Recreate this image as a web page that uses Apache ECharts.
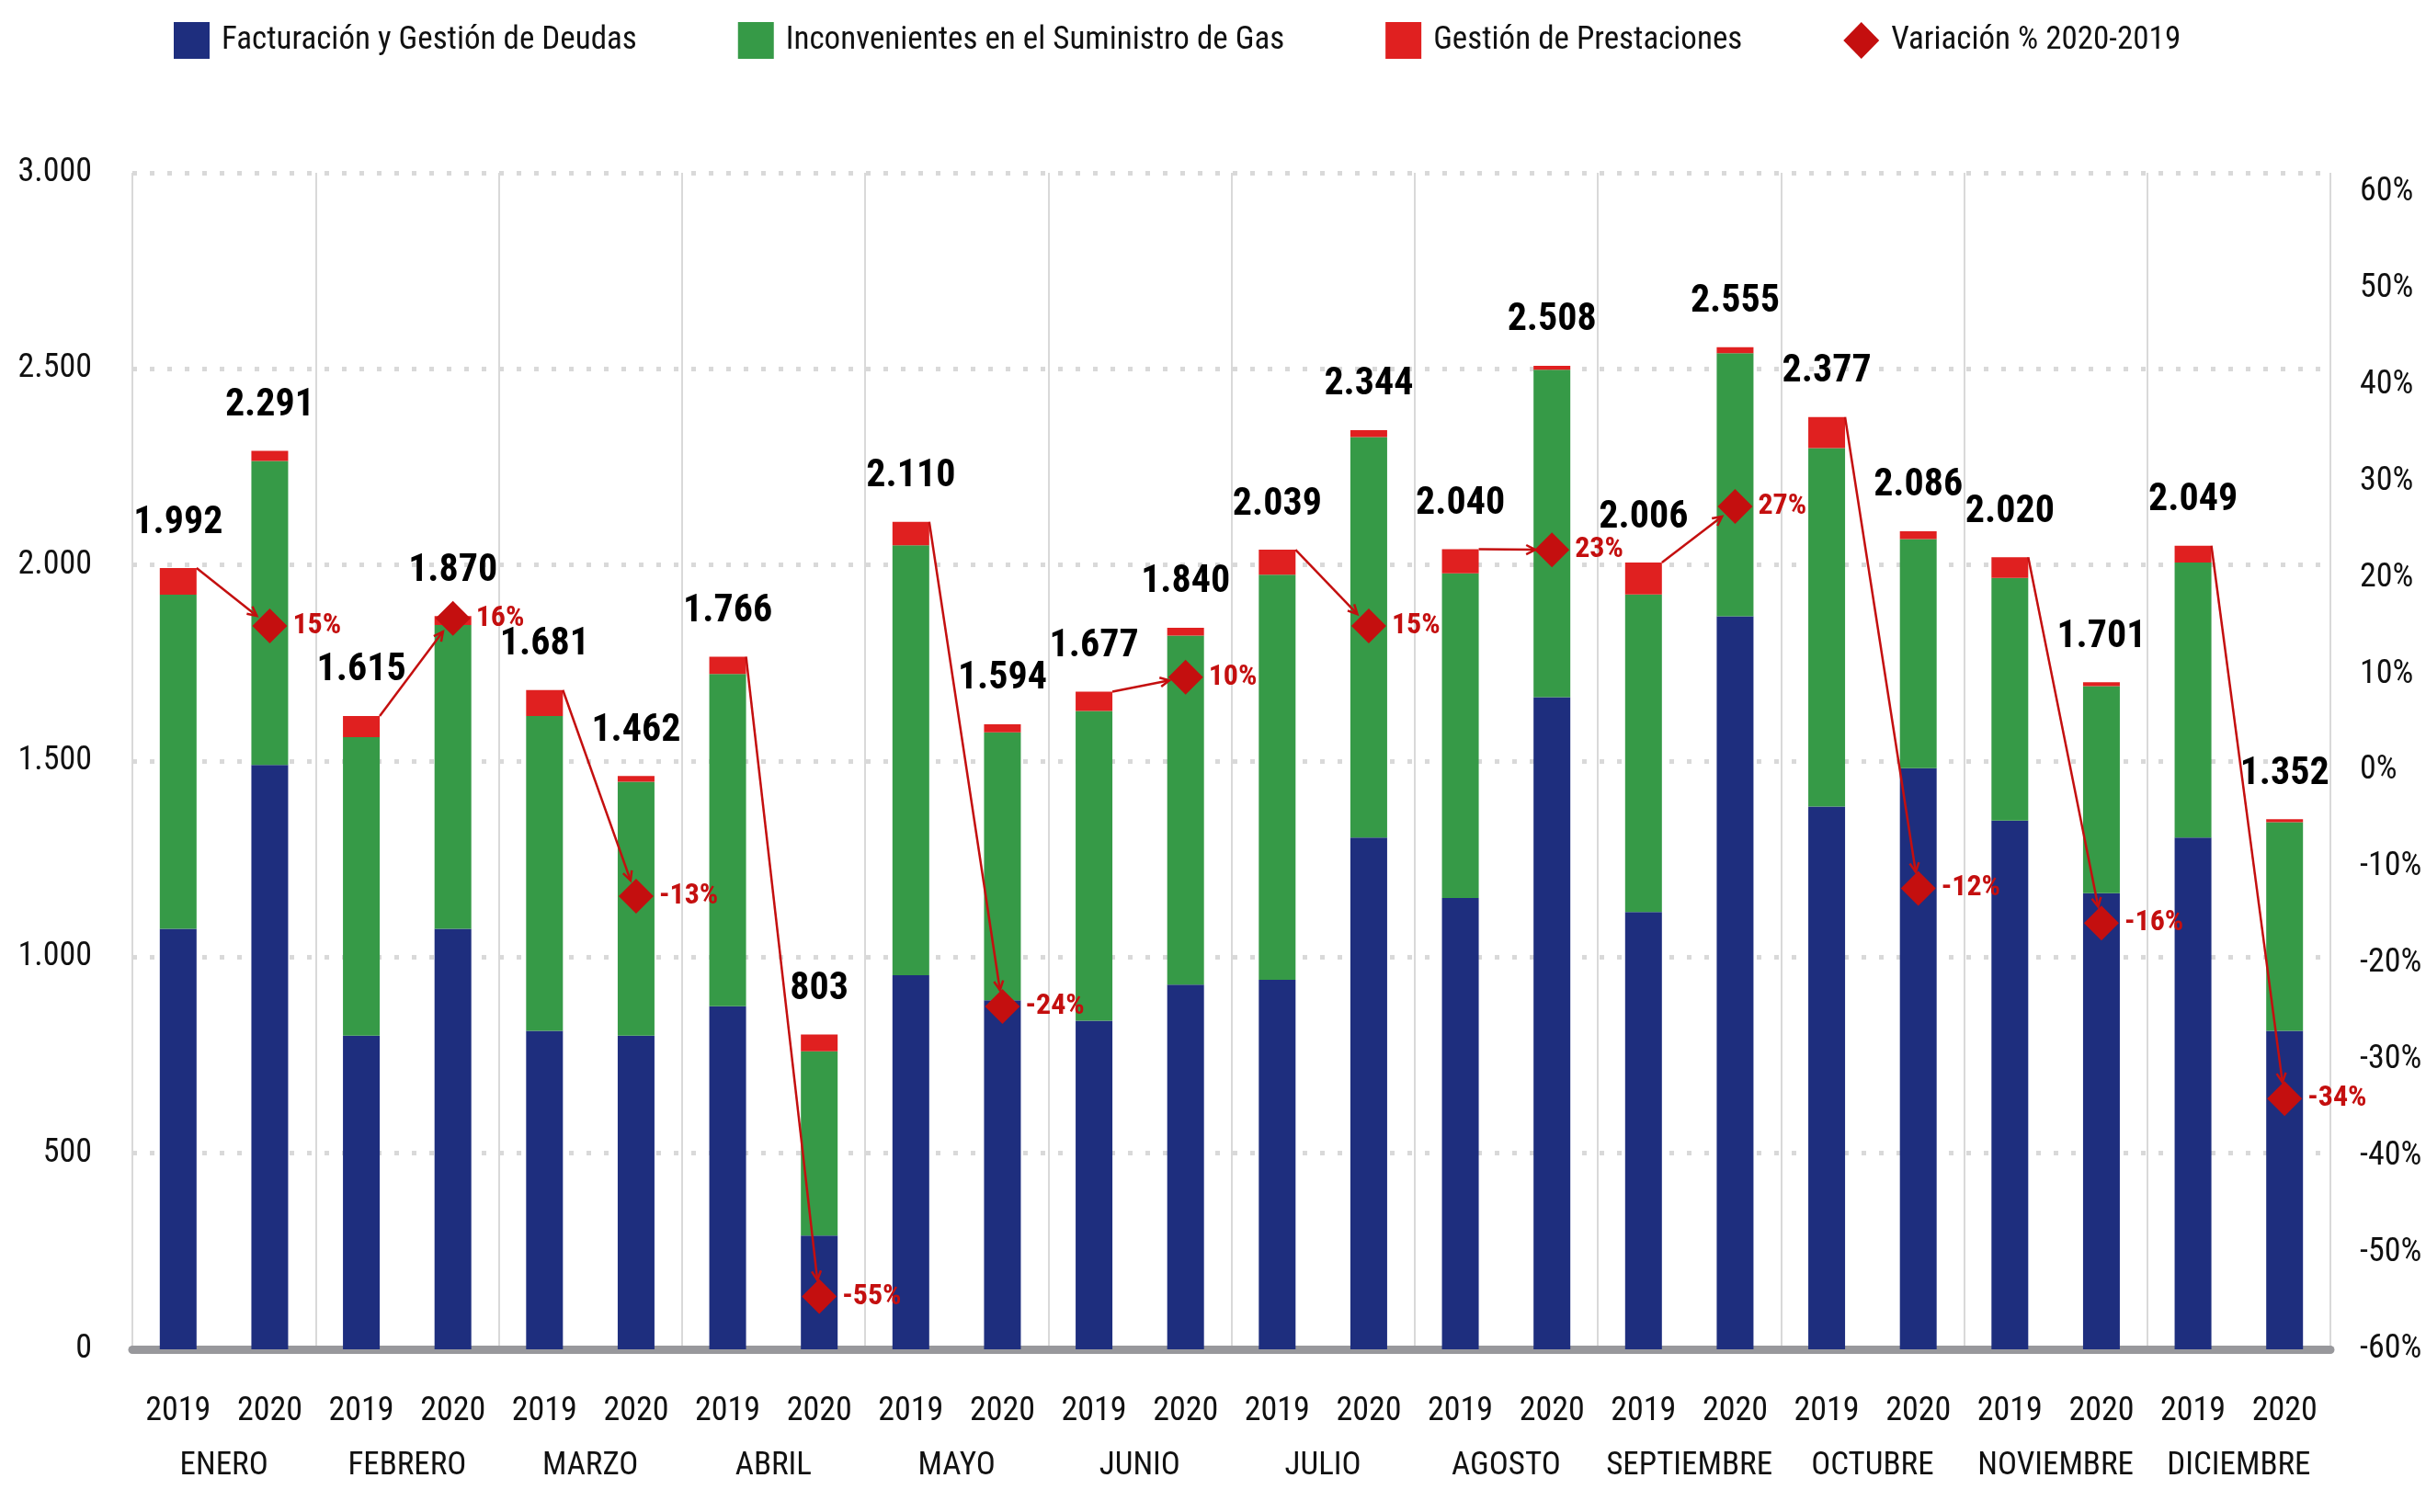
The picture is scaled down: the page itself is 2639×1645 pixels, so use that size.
<!DOCTYPE html>
<html>
<head>
<meta charset="utf-8">
<title>Reclamos por mes 2019-2020</title>
<script src="https://cdn.jsdelivr.net/npm/echarts@6/dist/echarts.min.js"></script>
<style>
  html, body { margin: 0; padding: 0; background: #fff; }
  #main { width: 2639px; height: 1645px; }
</style>
</head>
<body>
<div id="main"></div>
<script>
// datos
var months = ['ENERO', 'FEBRERO', 'MARZO', 'ABRIL', 'MAYO', 'JUNIO', 'JULIO', 'AGOSTO', 'SEPTIEMBRE', 'OCTUBRE', 'NOVIEMBRE', 'DICIEMBRE'];
var years = ['2019', '2020'];

// pares 2019, 2020 por mes
var facturacion = [1072, 1490, 800, 1072, 812, 800, 875, 290, 954, 890, 838, 930, 942, 1305, 1151, 1663, 1115, 1869, 1384, 1482, 1348, 1163, 1305, 812];
var suministro = [852, 775, 761, 775, 803, 647, 847, 470, 1096, 683, 790, 890, 1033, 1021, 828, 835, 810, 671, 914, 584, 619, 528, 701, 532];
var prestaciones = [68, 26, 54, 23, 66, 15, 44, 43, 60, 21, 49, 20, 64, 18, 61, 10, 81, 15, 79, 20, 53, 10, 43, 8];
var totales = [1992, 2291, 1615, 1870, 1681, 1462, 1766, 803, 2110, 1594, 1677, 1840, 2039, 2344, 2040, 2508, 2006, 2555, 2377, 2086, 2020, 1701, 2049, 1352];

// variacion % 2020 vs 2019, un valor por mes
var variacion = [15.0, 15.8, -13.0, -54.53, -24.45, 9.7, 15.0, 22.9, 27.4, -12.2, -15.8, -34.0];

var FONT = "'Roboto Condensed', 'Liberation Sans Narrow', 'Roboto', sans-serif";
var AZUL = '#1e2e7e', VERDE = '#369a47', ROJO = '#e02020', ROJO_OSC = '#c40f0f';

var cats = [];
months.forEach(function (m) {
    years.forEach(function (y) { cats.push(m + '|' + y); });
});

function miles(n) {
    return String(n).replace(/\B(?=(\d{3})+(?!\d))/g, '.');
}

var puntos = variacion.map(function (v, i) { return [2 * i + 1, v]; });
var flechas = variacion.map(function (v, i) { return [2 * i, totales[2 * i], 2 * i + 1, v]; });

var chart = echarts.init(document.getElementById('main'));

var option = {
    backgroundColor: '#fff',
    textStyle: { fontFamily: FONT },
    animation: false,
    legend: {
        top: 19,
        left: 184,
        itemWidth: 39,
        itemHeight: 40,
        itemGap: 110,
        textStyle: { fontFamily: FONT, fontSize: 35, color: '#111', padding: [0, 0, 0, 8] },
        data: [
            { name: 'Facturación y Gestión de Deudas', icon: 'rect' },
            { name: 'Inconvenientes en el Suministro de Gas', icon: 'rect' },
            { name: 'Gestión de Prestaciones', icon: 'rect' },
            { name: 'Variación % 2020-2019', icon: 'diamond' }
        ]
    },
    grid: { left: 144, right: 104, top: 188, bottom: 177, containLabel: false },
    xAxis: [
        {
            type: 'category',
            data: cats,
            position: 'bottom',
            axisLine: { show: true, lineStyle: { color: '#98989c', width: 9 } },
            axisTick: { show: false },
            axisLabel: {
                interval: 0, margin: 50, fontFamily: FONT, fontSize: 36, color: '#111',
                formatter: function (v) { return v.split('|')[1]; }
            },
            splitLine: { show: false }
        },
        {
            type: 'category',
            data: months,
            position: 'bottom',
            axisLine: { show: false },
            axisTick: { show: true, length: 190, lineStyle: { color: '#d9d9d9', width: 2 } },
            axisLabel: { interval: 0, margin: 110, fontFamily: FONT, fontSize: 35, color: '#111' },
            splitLine: { show: true, lineStyle: { color: '#d9d9d9', width: 2 } }
        }
    ],
    yAxis: [
        {
            type: 'value',
            min: 0,
            max: 3000,
            interval: 500,
            axisLine: { show: false },
            axisTick: { show: false },
            axisLabel: {
                margin: 44, fontFamily: FONT, fontSize: 36, color: '#111',
                formatter: function (v) { return miles(v); }
            },
            splitLine: { show: true, lineStyle: { color: '#d9d9d9', width: 5, type: [5, 14] } }
        },
        {
            type: 'value',
            min: -60,
            max: 62,
            interval: 10,
            position: 'right',
            axisLine: { show: false },
            axisTick: { show: false },
            splitLine: { show: false },
            axisLabel: {
                margin: 32, fontFamily: FONT, fontSize: 36, color: '#111',
                formatter: function (v) { return v % 10 === 0 ? v + '%' : ''; }
            }
        }
    ],
    series: [
        {
            name: 'Facturación y Gestión de Deudas',
            type: 'bar', stack: 'total', barWidth: 40,
            itemStyle: { color: AZUL },
            data: facturacion
        },
        {
            name: 'Inconvenientes en el Suministro de Gas',
            type: 'bar', stack: 'total', barWidth: 40,
            itemStyle: { color: VERDE },
            data: suministro
        },
        {
            name: 'Gestión de Prestaciones',
            type: 'bar', stack: 'total', barWidth: 40,
            itemStyle: { color: ROJO },
            label: {
                show: true,
                position: 'top',
                distance: 28,
                fontFamily: FONT,
                fontSize: 42,
                fontWeight: 'bold',
                color: '#000',
                formatter: function (p) { return miles(totales[p.dataIndex]); }
            },
            data: prestaciones
        },
        {
            type: 'custom',
            xAxisIndex: 0,
            yAxisIndex: 0,
            z: 5,
            silent: true,
            data: flechas,
            renderItem: function (params, api) {
                var s = api.coord([api.value(0), api.value(1)]);
                var x1 = s[0] + 20, y1 = s[1];
                var x2 = api.coord([api.value(2), 0])[0];
                var y2 = chart.convertToPixel({ yAxisIndex: 1 }, api.value(3));
                if (y2 == null || isNaN(y2)) return;
                var dx = x2 - x1, dy = y2 - y1;
                var len = Math.sqrt(dx * dx + dy * dy);
                var ux = dx / len, uy = dy / len;
                var ex = x2 - ux * 18, ey = y2 - uy * 18;
                var bx = ex - ux * 10, by = ey - uy * 10;
                return {
                    type: 'group',
                    children: [
                        { type: 'line', shape: { x1: x1, y1: y1, x2: ex, y2: ey }, style: { stroke: ROJO_OSC, lineWidth: 2.5 } },
                        {
                            type: 'polyline',
                            shape: { points: [[bx - uy * 5, by + ux * 5], [ex, ey], [bx + uy * 5, by - ux * 5]] },
                            style: { stroke: ROJO_OSC, lineWidth: 2.5, fill: null }
                        }
                    ]
                };
            }
        },
        {
            name: 'Variación % 2020-2019',
            type: 'scatter',
            xAxisIndex: 0,
            yAxisIndex: 1,
            z: 6,
            symbol: 'diamond',
            symbolSize: 38,
            itemStyle: { color: ROJO_OSC, opacity: 1 },
            label: {
                show: true,
                position: 'right',
                distance: 6,
                fontFamily: FONT,
                fontSize: 32,
                fontWeight: 'bold',
                color: ROJO_OSC,
                formatter: function (p) { return Math.round(p.value[1]) + '%'; }
            },
            data: puntos
        }
    ]
};

chart.setOption(option);
</script>
</body>
</html>
